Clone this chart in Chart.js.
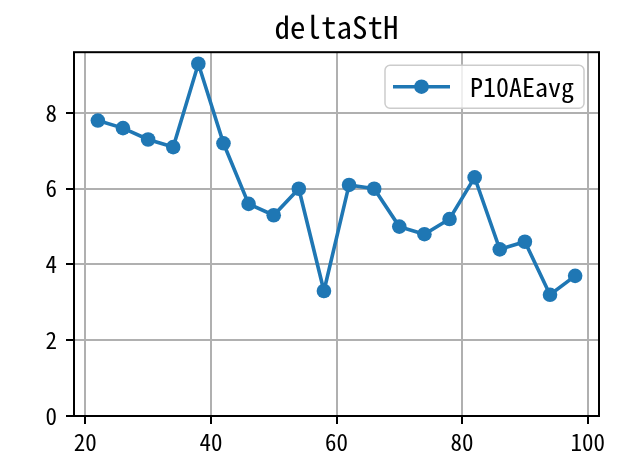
<html>
<head>
<title>deltaStH</title>
<script src="https://cdn.jsdelivr.net/npm/chart.js"></script>
<style>
  body { margin: 0; padding: 0; background: #ffffff; }
  #chart { display: block; }
</style>
</head>
<body>
<canvas id="chart" width="623" height="468"></canvas>
<script>
// data
const xValues = [22, 26, 30, 34, 38, 42, 46, 50, 54, 58, 62, 66, 70, 74, 78, 82, 86, 90, 94, 98];
const yValues = [7.8, 7.6, 7.3, 7.1, 9.3, 7.2, 5.6, 5.3, 6.0, 3.3, 6.1, 6.0, 5.0, 4.8, 5.2, 6.3, 4.4, 4.6, 3.2, 3.7];
const seriesLabel = 'P10AEavg';
const chartTitle = 'deltaStH';
const xTicks = [20, 40, 60, 80, 100];
const yTicks = [0, 2, 4, 6, 8];

const fontFamily = "'Noto Sans Mono CJK SC', 'DejaVu Sans Mono', monospace";
const blue = '#1f77b4';

// matplotlib style box around the axes
const frame = {
  id: 'frame',
  afterDatasetsDraw(chart) {
    const { ctx, chartArea: a } = chart;
    ctx.save();
    ctx.strokeStyle = '#000';
    ctx.lineWidth = 2;
    ctx.strokeRect(a.left, a.top, a.right - a.left, a.bottom - a.top);
    ctx.restore();
  }
};

// legend box in the upper right corner of the axes
const boxLegend = {
  id: 'boxLegend',
  afterDraw(chart) {
    const { ctx, chartArea: a } = chart;
    const ds = chart.data.datasets[0];
    ctx.save();
    ctx.font = '26px ' + fontFamily;
    const tw = ctx.measureText(ds.label).width;
    const h = 43;
    const w = 8 + 57 + 20 + tw + 10;
    const x = a.right - 15 - w;
    const y = a.top + 13;
    ctx.beginPath();
    ctx.roundRect(x, y, w, h, 5);
    ctx.fillStyle = 'rgba(255,255,255,0.8)';
    ctx.fill();
    ctx.strokeStyle = '#cccccc';
    ctx.lineWidth = 1.5;
    ctx.stroke();
    const cy = y + h / 2;
    ctx.beginPath();
    ctx.moveTo(x + 8, cy);
    ctx.lineTo(x + 65, cy);
    ctx.strokeStyle = ds.borderColor;
    ctx.lineWidth = ds.borderWidth;
    ctx.stroke();
    ctx.beginPath();
    ctx.arc(x + 36.5, cy, ds.pointRadius, 0, Math.PI * 2);
    ctx.fillStyle = ds.pointBackgroundColor;
    ctx.fill();
    ctx.fillStyle = '#000';
    ctx.textBaseline = 'middle';
    ctx.fillText(ds.label, x + 85, cy);
    ctx.restore();
  }
};

const points = xValues.map((x, i) => ({ x: x, y: yValues[i] }));

new Chart(document.getElementById('chart').getContext('2d'), {
  type: 'line',
  data: {
    datasets: [{
      label: seriesLabel,
      data: points,
      borderColor: blue,
      backgroundColor: blue,
      borderWidth: 3.6,
      pointRadius: 7.3,
      pointBackgroundColor: blue,
      pointBorderWidth: 0,
      tension: 0,
      clip: false
    }]
  },
  options: {
    responsive: false,
    animation: false,
    layout: { padding: { left: 0, right: 24, top: 0, bottom: 0 } },
    plugins: {
      legend: { display: false },
      tooltip: { enabled: false },
      title: {
        display: true,
        text: chartTitle,
        fullSize: false,
        color: '#000',
        font: { family: fontFamily, size: 31, weight: 'normal' },
        padding: { top: 9, bottom: 6 }
      }
    },
    scales: {
      x: {
        type: 'linear',
        min: 18.2,
        max: 101.8,
        afterBuildTicks: s => { s.ticks = xTicks.map(v => ({ value: v })); },
        afterFit: s => { s.height = 52; },
        border: { display: false },
        grid: { color: '#b0b0b0', lineWidth: 2, drawTicks: true, tickLength: 8, tickColor: '#000', tickWidth: 2 },
        ticks: { color: '#000', padding: 4, maxRotation: 0, font: { family: fontFamily, size: 23 } }
      },
      y: {
        type: 'linear',
        min: 0,
        max: 9.605,
        afterBuildTicks: s => { s.ticks = yTicks.map(v => ({ value: v })); },
        afterFit: s => { s.width = 74; },
        border: { display: false },
        grid: { color: '#b0b0b0', lineWidth: 2, drawTicks: true, tickLength: 8, tickColor: '#000', tickWidth: 2 },
        ticks: { color: '#000', padding: 9, font: { family: fontFamily, size: 23 } }
      }
    }
  },
  plugins: [frame, boxLegend]
});
</script>
</body>
</html>
